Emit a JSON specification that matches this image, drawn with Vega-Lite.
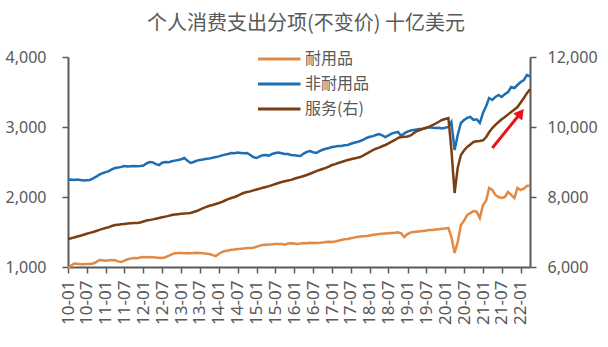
{
  "$schema": "https://vega.github.io/schema/vega-lite/v6.json",
  "width": 462,
  "height": 210,
  "autosize": {"type": "none"},
  "padding": {"left": 68, "top": 57, "right": 78, "bottom": 80},
  "background": "white",
  "title": {"text": "个人消费支出分项(不变价) 十亿美元", "font": "Noto Sans CJK SC", "fontSize": 20, "fontWeight": "normal", "color": "#595959", "anchor": "middle", "offset": 15, "dx": 7},
  "datasets": {
    "pce": [
      {"m":"2010-01","耐用品":986,"非耐用品":2243,"服务(右)":6800},
      {"m":"2010-02","耐用品":1020,"非耐用品":2250,"服务(右)":6820},
      {"m":"2010-03","耐用品":1050,"非耐用品":2243,"服务(右)":6845},
      {"m":"2010-04","耐用品":1045,"非耐用品":2250,"服务(右)":6870},
      {"m":"2010-05","耐用品":1040,"非耐用品":2243,"服务(右)":6895},
      {"m":"2010-06","耐用品":1040,"非耐用品":2236,"服务(右)":6920},
      {"m":"2010-07","耐用品":1043,"非耐用品":2240,"服务(右)":6950},
      {"m":"2010-08","耐用品":1043,"非耐用品":2243,"服务(右)":6975},
      {"m":"2010-09","耐用品":1050,"非耐用品":2265,"服务(右)":7000},
      {"m":"2010-10","耐用品":1070,"非耐用品":2290,"服务(右)":7030},
      {"m":"2010-11","耐用品":1100,"非耐用品":2320,"服务(右)":7060},
      {"m":"2010-12","耐用品":1095,"非耐用品":2340,"服务(右)":7090},
      {"m":"2011-01","耐用品":1090,"非耐用品":2355,"服务(右)":7115},
      {"m":"2011-02","耐用品":1095,"非耐用品":2370,"服务(右)":7140},
      {"m":"2011-03","耐用品":1100,"非耐用品":2395,"服务(右)":7170},
      {"m":"2011-04","耐用品":1095,"非耐用品":2414,"服务(右)":7200},
      {"m":"2011-05","耐用品":1080,"非耐用品":2420,"服务(右)":7210},
      {"m":"2011-06","耐用品":1071,"非耐用品":2430,"服务(右)":7220},
      {"m":"2011-07","耐用品":1090,"非耐用品":2443,"服务(右)":7230},
      {"m":"2011-08","耐用品":1110,"非耐用品":2436,"服务(右)":7240},
      {"m":"2011-09","耐用品":1120,"非耐用品":2440,"服务(右)":7250},
      {"m":"2011-10","耐用品":1129,"非耐用品":2443,"服务(右)":7257},
      {"m":"2011-11","耐用品":1125,"非耐用品":2440,"服务(右)":7260},
      {"m":"2011-12","耐用品":1135,"非耐用品":2443,"服务(右)":7270},
      {"m":"2012-01","耐用品":1143,"非耐用品":2450,"服务(右)":7300},
      {"m":"2012-02","耐用品":1140,"非耐用品":2480,"服务(右)":7330},
      {"m":"2012-03","耐用品":1143,"非耐用品":2500,"服务(右)":7343},
      {"m":"2012-04","耐用品":1140,"非耐用品":2495,"服务(右)":7360},
      {"m":"2012-05","耐用品":1135,"非耐用品":2470,"服务(右)":7380},
      {"m":"2012-06","耐用品":1132,"非耐用品":2457,"服务(右)":7400},
      {"m":"2012-07","耐用品":1129,"非耐用品":2490,"服务(右)":7420},
      {"m":"2012-08","耐用品":1140,"非耐用品":2500,"服务(右)":7440},
      {"m":"2012-09","耐用品":1160,"非耐用品":2495,"服务(右)":7460},
      {"m":"2012-10","耐用品":1180,"非耐用品":2510,"服务(右)":7486},
      {"m":"2012-11","耐用品":1195,"非耐用品":2520,"服务(右)":7500},
      {"m":"2012-12","耐用品":1200,"非耐用品":2529,"服务(右)":7510},
      {"m":"2013-01","耐用品":1200,"非耐用品":2540,"服务(右)":7520},
      {"m":"2013-02","耐用品":1198,"非耐用品":2557,"服务(右)":7530},
      {"m":"2013-03","耐用品":1200,"非耐用品":2520,"服务(右)":7535},
      {"m":"2013-04","耐用品":1195,"非耐用品":2486,"服务(右)":7543},
      {"m":"2013-05","耐用品":1200,"非耐用品":2500,"服务(右)":7570},
      {"m":"2013-06","耐用品":1205,"非耐用品":2520,"服务(右)":7600},
      {"m":"2013-07","耐用品":1200,"非耐用品":2529,"服务(右)":7640},
      {"m":"2013-08","耐用品":1195,"非耐用品":2535,"服务(右)":7680},
      {"m":"2013-09","耐用品":1190,"非耐用品":2545,"服务(右)":7720},
      {"m":"2013-10","耐用品":1186,"非耐用品":2550,"服务(右)":7750},
      {"m":"2013-11","耐用品":1170,"非耐用品":2560,"服务(右)":7771},
      {"m":"2013-12","耐用品":1157,"非耐用品":2571,"服务(右)":7800},
      {"m":"2014-01","耐用品":1190,"非耐用品":2580,"服务(右)":7830},
      {"m":"2014-02","耐用品":1215,"非耐用品":2595,"服务(右)":7860},
      {"m":"2014-03","耐用品":1229,"非耐用品":2605,"服务(右)":7900},
      {"m":"2014-04","耐用品":1235,"非耐用品":2615,"服务(右)":7940},
      {"m":"2014-05","耐用品":1245,"非耐用品":2629,"服务(右)":7971},
      {"m":"2014-06","耐用品":1250,"非耐用品":2625,"服务(右)":8000},
      {"m":"2014-07","耐用品":1257,"非耐用品":2635,"服务(右)":8035},
      {"m":"2014-08","耐用品":1260,"非耐用品":2630,"服务(右)":8080},
      {"m":"2014-09","耐用品":1265,"非耐用品":2625,"服务(右)":8120},
      {"m":"2014-10","耐用品":1270,"非耐用品":2629,"服务(右)":8143},
      {"m":"2014-11","耐用品":1271,"非耐用品":2600,"服务(右)":8160},
      {"m":"2014-12","耐用品":1275,"非耐用品":2570,"服务(右)":8190},
      {"m":"2015-01","耐用品":1290,"非耐用品":2557,"服务(右)":8215},
      {"m":"2015-02","耐用品":1305,"非耐用品":2580,"服务(右)":8240},
      {"m":"2015-03","耐用品":1314,"非耐用品":2595,"服务(右)":8265},
      {"m":"2015-04","耐用品":1318,"非耐用品":2600,"服务(右)":8286},
      {"m":"2015-05","耐用品":1322,"非耐用品":2590,"服务(右)":8310},
      {"m":"2015-06","耐用品":1325,"非耐用品":2615,"服务(右)":8340},
      {"m":"2015-07","耐用品":1329,"非耐用品":2629,"服务(右)":8370},
      {"m":"2015-08","耐用品":1330,"非耐用品":2635,"服务(右)":8400},
      {"m":"2015-09","耐用品":1329,"非耐用品":2625,"服务(右)":8429},
      {"m":"2015-10","耐用品":1320,"非耐用品":2615,"服务(右)":8450},
      {"m":"2015-11","耐用品":1335,"非耐用品":2614,"服务(右)":8470},
      {"m":"2015-12","耐用品":1340,"非耐用品":2600,"服务(右)":8490},
      {"m":"2016-01","耐用品":1335,"非耐用品":2595,"服务(右)":8520},
      {"m":"2016-02","耐用品":1329,"非耐用品":2590,"服务(右)":8550},
      {"m":"2016-03","耐用品":1335,"非耐用品":2586,"服务(右)":8571},
      {"m":"2016-04","耐用品":1343,"非耐用品":2620,"服务(右)":8600},
      {"m":"2016-05","耐用品":1340,"非耐用品":2645,"服务(右)":8630},
      {"m":"2016-06","耐用品":1345,"非耐用品":2657,"服务(右)":8665},
      {"m":"2016-07","耐用品":1343,"非耐用品":2640,"服务(右)":8700},
      {"m":"2016-08","耐用品":1343,"非耐用品":2629,"服务(右)":8740},
      {"m":"2016-09","耐用品":1345,"非耐用品":2655,"服务(右)":8771},
      {"m":"2016-10","耐用品":1350,"非耐用品":2675,"服务(右)":8800},
      {"m":"2016-11","耐用品":1357,"非耐用品":2690,"服务(右)":8830},
      {"m":"2016-12","耐用品":1360,"非耐用品":2700,"服务(右)":8870},
      {"m":"2017-01","耐用品":1357,"非耐用品":2714,"服务(右)":8914},
      {"m":"2017-02","耐用品":1365,"非耐用品":2720,"服务(右)":8940},
      {"m":"2017-03","耐用品":1375,"非耐用品":2728,"服务(右)":8970},
      {"m":"2017-04","耐用品":1385,"非耐用品":2730,"服务(右)":9000},
      {"m":"2017-05","耐用品":1395,"非耐用品":2738,"服务(右)":9030},
      {"m":"2017-06","耐用品":1400,"非耐用品":2743,"服务(右)":9057},
      {"m":"2017-07","耐用品":1410,"非耐用品":2760,"服务(右)":9080},
      {"m":"2017-08","耐用品":1420,"非耐用品":2775,"服务(右)":9100},
      {"m":"2017-09","耐用品":1430,"非耐用品":2786,"服务(右)":9120},
      {"m":"2017-10","耐用品":1437,"非耐用品":2800,"服务(右)":9143},
      {"m":"2017-11","耐用品":1440,"非耐用品":2820,"服务(右)":9190},
      {"m":"2017-12","耐用品":1443,"非耐用品":2843,"服务(右)":9240},
      {"m":"2018-01","耐用品":1450,"非耐用品":2860,"服务(右)":9290},
      {"m":"2018-02","耐用品":1460,"非耐用品":2870,"服务(右)":9343},
      {"m":"2018-03","耐用品":1465,"非耐用品":2885,"服务(右)":9380},
      {"m":"2018-04","耐用品":1471,"非耐用品":2900,"服务(右)":9410},
      {"m":"2018-05","耐用品":1475,"非耐用品":2880,"服务(右)":9450},
      {"m":"2018-06","耐用品":1480,"非耐用品":2857,"服务(右)":9486},
      {"m":"2018-07","耐用品":1483,"非耐用品":2880,"服务(右)":9530},
      {"m":"2018-08","耐用品":1486,"非耐用品":2905,"服务(右)":9580},
      {"m":"2018-09","耐用品":1490,"非耐用品":2920,"服务(右)":9630},
      {"m":"2018-10","耐用品":1495,"非耐用品":2929,"服务(右)":9686},
      {"m":"2018-11","耐用品":1480,"非耐用品":2871,"服务(右)":9714},
      {"m":"2018-12","耐用品":1429,"非耐用品":2910,"服务(右)":9720},
      {"m":"2019-01","耐用品":1470,"非耐用品":2935,"服务(右)":9730},
      {"m":"2019-02","耐用品":1495,"非耐用品":2950,"服务(右)":9760},
      {"m":"2019-03","耐用品":1500,"非耐用品":2957,"服务(右)":9820},
      {"m":"2019-04","耐用品":1505,"非耐用品":2965,"服务(右)":9880},
      {"m":"2019-05","耐用品":1510,"非耐用品":2970,"服务(右)":9914},
      {"m":"2019-06","耐用品":1515,"非耐用品":2975,"服务(右)":9950},
      {"m":"2019-07","耐用品":1520,"非耐用品":2985,"服务(右)":9980},
      {"m":"2019-08","耐用品":1529,"非耐用品":2995,"服务(右)":10010},
      {"m":"2019-09","耐用品":1530,"非耐用品":2990,"服务(右)":10057},
      {"m":"2019-10","耐用品":1535,"非耐用品":2985,"服务(右)":10100},
      {"m":"2019-11","耐用品":1540,"非耐用品":2990,"服务(右)":10150},
      {"m":"2019-12","耐用品":1545,"非耐用品":2980,"服务(右)":10200},
      {"m":"2020-01","耐用品":1550,"非耐用品":2990,"服务(右)":10230},
      {"m":"2020-02","耐用品":1557,"非耐用品":3000,"服务(右)":10257},
      {"m":"2020-03","耐用品":1429,"非耐用品":3071,"服务(右)":9350},
      {"m":"2020-04","耐用品":1200,"非耐用品":2671,"服务(右)":8114},
      {"m":"2020-05","耐用品":1357,"非耐用品":2886,"服务(右)":8829},
      {"m":"2020-06","耐用品":1600,"非耐用品":3057,"服务(右)":9200},
      {"m":"2020-07","耐用品":1660,"非耐用品":3100,"服务(右)":9330},
      {"m":"2020-08","耐用品":1743,"非耐用品":3130,"服务(右)":9429},
      {"m":"2020-09","耐用品":1770,"非耐用品":3143,"服务(右)":9500},
      {"m":"2020-10","耐用品":1800,"非耐用品":3100,"服务(右)":9571},
      {"m":"2020-11","耐用品":1790,"非耐用品":3110,"服务(右)":9590},
      {"m":"2020-12","耐用品":1700,"非耐用品":3057,"服务(右)":9600},
      {"m":"2021-01","耐用品":1886,"非耐用品":3200,"服务(右)":9620},
      {"m":"2021-02","耐用品":1950,"非耐用品":3300,"服务(右)":9714},
      {"m":"2021-03","耐用品":2129,"非耐用品":3414,"服务(右)":9850},
      {"m":"2021-04","耐用品":2100,"非耐用品":3386,"服务(右)":9971},
      {"m":"2021-05","耐用品":2029,"非耐用品":3429,"服务(右)":10060},
      {"m":"2021-06","耐用品":2000,"非耐用品":3457,"服务(右)":10143},
      {"m":"2021-07","耐用品":1986,"非耐用品":3429,"服务(右)":10220},
      {"m":"2021-08","耐用品":2000,"非耐用品":3470,"服务(右)":10286},
      {"m":"2021-09","耐用品":2071,"非耐用品":3500,"服务(右)":10360},
      {"m":"2021-10","耐用品":2030,"非耐用品":3571,"服务(右)":10429},
      {"m":"2021-11","耐用品":1986,"非耐用品":3557,"服务(右)":10500},
      {"m":"2021-12","耐用品":2129,"非耐用品":3600,"服务(右)":10571},
      {"m":"2022-01","耐用品":2100,"非耐用品":3643,"服务(右)":10700},
      {"m":"2022-02","耐用品":2120,"非耐用品":3671,"服务(右)":10829},
      {"m":"2022-03","耐用品":2157,"非耐用品":3743,"服务(右)":10960},
      {"m":"2022-04","耐用品":2165,"非耐用品":3725,"服务(右)":11080}
    ]
  },
  "encoding": {
    "x": {
      "field": "m",
      "type": "temporal",
      "timeUnit": "utcyearmonth",
      "scale": {"domain": [{"year": 2010, "month": 1, "date": 1, "utc": true}, {"year": 2022, "month": 4, "date": 1, "utc": true}]},
      "axis": {"format": "%y-%m", "tickCount": {"interval": "month", "step": 6}, "labelAngle": 270, "labelPadding": 7, "labelFontSize": 17, "labelFlush": false, "labelOverlap": false, "title": null}
    }
  },
  "layer": [
    {
      "data": {"name": "pce"},
      "transform": [{"fold": ["耐用品", "非耐用品"], "as": ["series", "v"]}],
      "mark": {"type": "line", "strokeWidth": 2.5},
      "encoding": {
        "y": {"field": "v", "type": "quantitative", "scale": {"domain": [1000, 4000], "nice": false, "zero": false}, "axis": {"orient": "left", "values": [1000, 2000, 3000, 4000], "format": ",.0f", "labelPadding": 16, "title": null}},
        "color": {"field": "series", "type": "nominal", "scale": {"domain": ["耐用品", "非耐用品", "服务(右)"], "range": ["#E08A46", "#1E6EB4", "#7A3E12"]}, "legend": {"title": null, "symbolType": "M -4 0 H 1", "symbolSize": 289, "symbolStrokeWidth": 3}}
      }
    },
    {
      "encoding": {
        "y": {"field": "v", "type": "quantitative", "scale": {"domain": [6000, 12000], "nice": false, "zero": false}, "axis": {"orient": "right", "values": [6000, 8000, 10000, 12000], "format": ",.0f", "labelPadding": 11, "title": null}}
      },
      "layer": [
        {
          "data": {"name": "pce"},
          "transform": [{"fold": ["服务(右)"], "as": ["series", "v"]}],
          "mark": {"type": "line", "strokeWidth": 2.5},
          "encoding": {"color": {"field": "series", "type": "nominal", "legend": {"title": null, "symbolType": "M -4 0 H 1", "symbolSize": 289, "symbolStrokeWidth": 3}}}
        },
        {
          "data": {"values": [{"m": "2021-04", "v": 9400, "m2": "2022-01", "v2": 10400}]},
          "mark": {"type": "rule", "color": "#E8141B", "strokeWidth": 3},
          "encoding": {"x2": {"field": "m2", "timeUnit": "utcyearmonth"}, "y2": {"field": "v2"}}
        },
        {
          "data": {"values": [{"m": "2022-01", "v": 10400}]},
          "mark": {"type": "point", "shape": "triangle-up", "filled": true, "color": "#E8141B", "size": 130, "angle": 38, "opacity": 1},
          "encoding": {}
        }
      ]
    }
  ],
  "resolve": {"scale": {"y": "independent"}},
  "config": {
    "view": {"stroke": null},
    "axis": {"grid": false, "domainColor": "#595959", "domainWidth": 2, "tickColor": "#595959", "tickWidth": 1.5, "tickSize": 6, "labelColor": "#595959", "labelFont": "Noto Sans", "labelFontSize": 16},
    "legend": {"orient": "none", "legendX": 214, "legendY": -8, "symbolType": "M -4 0 H 1", "symbolSize": 289, "symbolStrokeWidth": 3, "labelFont": "Noto Sans CJK SC", "labelFontSize": 16, "labelColor": "#595959", "labelOffset": 3, "rowPadding": 7}
  }
}
